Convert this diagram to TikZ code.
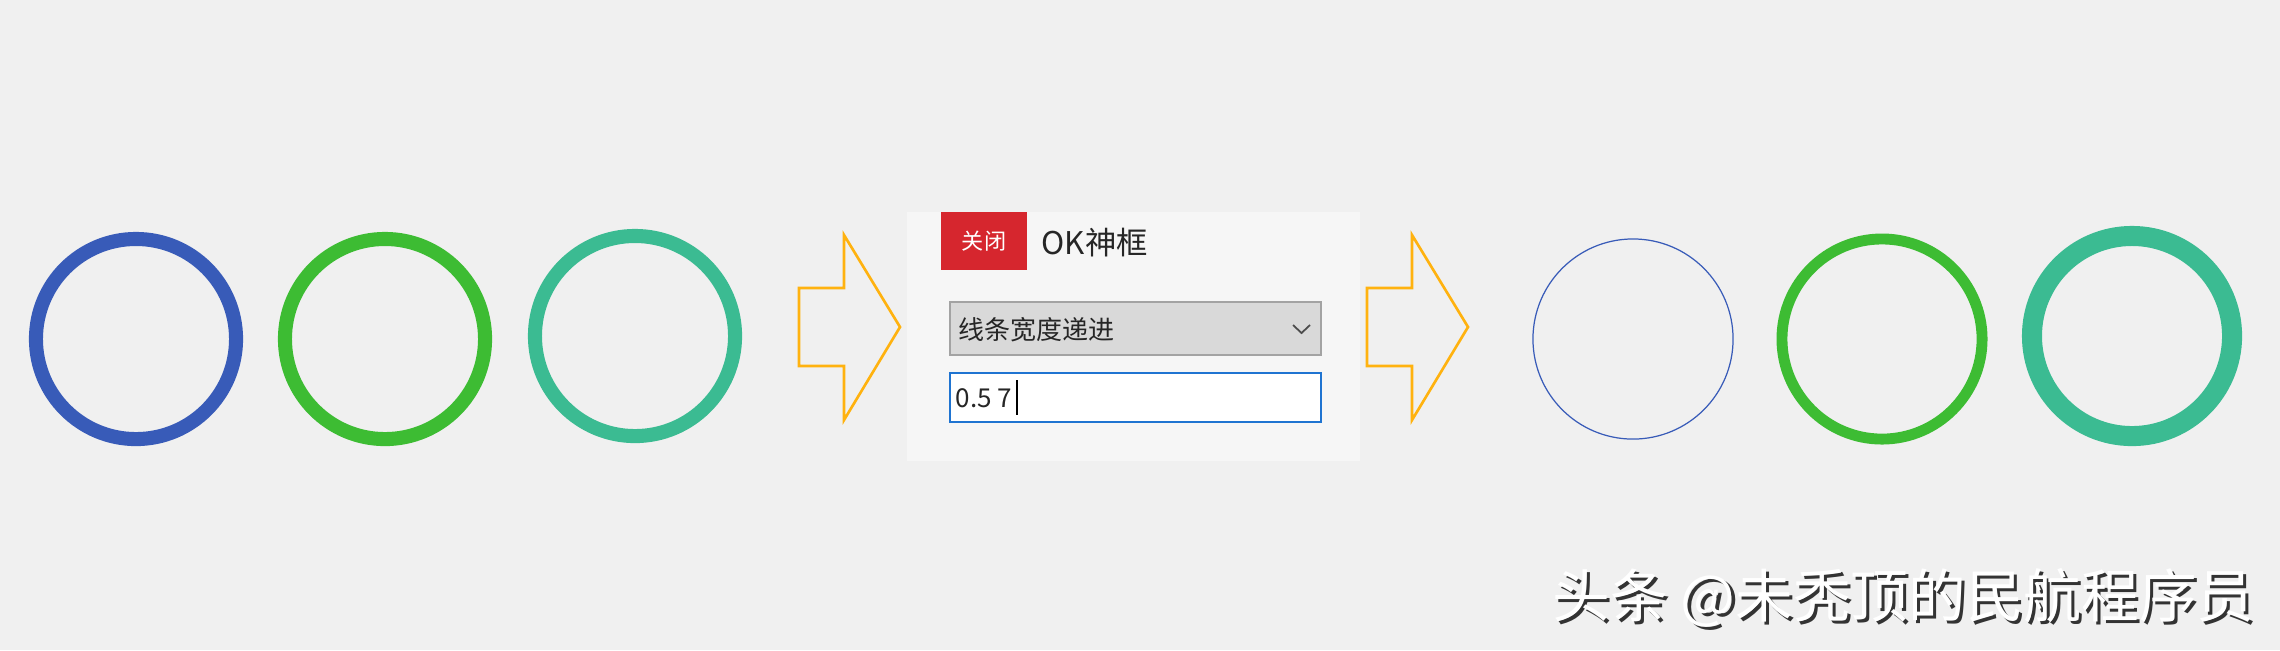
\documentclass[tikz,border=0pt]{standalone}
\usepackage{fontspec}
\setmainfont{Noto Sans CJK SC}
\definecolor{bgGray}{HTML}{F0F0F0}
\definecolor{panelGray}{HTML}{F6F6F6}
\definecolor{ringBlue}{HTML}{385BB8}
\definecolor{ringGreen}{HTML}{3DBC33}
\definecolor{ringTeal}{HTML}{3BBB92}
\definecolor{arrowOrange}{HTML}{FFB20F}
\definecolor{closeRed}{HTML}{D6262E}
\definecolor{comboGray}{HTML}{D9D9D9}
\definecolor{comboEdge}{HTML}{A3A3A3}
\definecolor{editBlue}{HTML}{1F74D1}
\tikzset{
  blockarrow/.style={line width=0.75pt,color=arrowOrange,line join=miter},
  widget/.style={draw,rectangle,inner sep=0pt},
  uitext/.style={anchor=west,inner sep=0pt,text=black!85}
}
\begin{document}
\begin{tikzpicture}[x=0.01cm,y=-0.01cm]
  \fill[bgGray] (0,0) rectangle (2280,650);
  \useasboundingbox (0,0) rectangle (2280,650);
  % before: same width
  \foreach \cx/\cy/\col in {136/339/ringBlue,385/339/ringGreen,635/336/ringTeal}
    \draw[line width=4pt,color=\col] (\cx,\cy) circle [radius=1cm];
  % block arrows
  \foreach \dx in {0,568}
    \draw[blockarrow,shift={(\dx,0)}] (799,288) -- (844,288) -- (844,235) -- (900,327)
      -- (844,420) -- (844,366) -- (799,366) -- cycle;
  % dialog
  \fill[panelGray] (907,212) rectangle (1360,461);
  \node[widget,draw=none,fill=closeRed,minimum width=0.86cm,minimum height=0.58cm,
        text=white,font=\fontsize{6.3pt}{7pt}\selectfont] (close) at (984,241) {关闭};
  \node[uitext,font=\fontsize{8.9pt}{9.5pt}\selectfont] (title) at (1041,243) {OK神框};
  \node[widget,fill=comboGray,draw=comboEdge,line width=0.6pt,
        minimum width=3.71cm,minimum height=0.53cm] (combo) at (1135.5,328.5) {};
  \node[uitext,font=\fontsize{7.4pt}{8pt}\selectfont] (mode) at (958,330) {线条宽度递进};
  \draw[line width=0.5pt,color=black!70] (1293,325) -- (1301.5,333) -- (1310,325);
  \node[widget,fill=white,draw=editBlue,line width=0.6pt,
        minimum width=3.71cm,minimum height=0.49cm] (edit) at (1135.5,397.5) {};
  \node[uitext,font=\fontsize{7.4pt}{8pt}\selectfont] (value) at (955,398) {0.5 7};
  \draw[line width=0.35pt] (1017,380) -- (1017,415);
  % after: widths 0.5 -> 7
  \draw[line width=0.35pt,color=ringBlue]  (1633,339) circle [radius=1cm];
  \draw[line width=3.1pt,color=ringGreen]  (1882,339) circle [radius=1cm];
  \draw[line width=5.7pt,color=ringTeal]   (2132,336) circle [radius=1cm];
  % watermark
  \node[anchor=west,inner sep=0pt,text=black!80,font=\fontsize{16.4pt}{17pt}\selectfont]
    (markshadow) at (1555,601) {头条 @未秃顶的民航程序员};
  \node[anchor=west,inner sep=0pt,text=white,font=\fontsize{16.4pt}{17pt}\selectfont]
    (mark) at (1552,598) {头条 @未秃顶的民航程序员};
\end{tikzpicture}
\end{document}
